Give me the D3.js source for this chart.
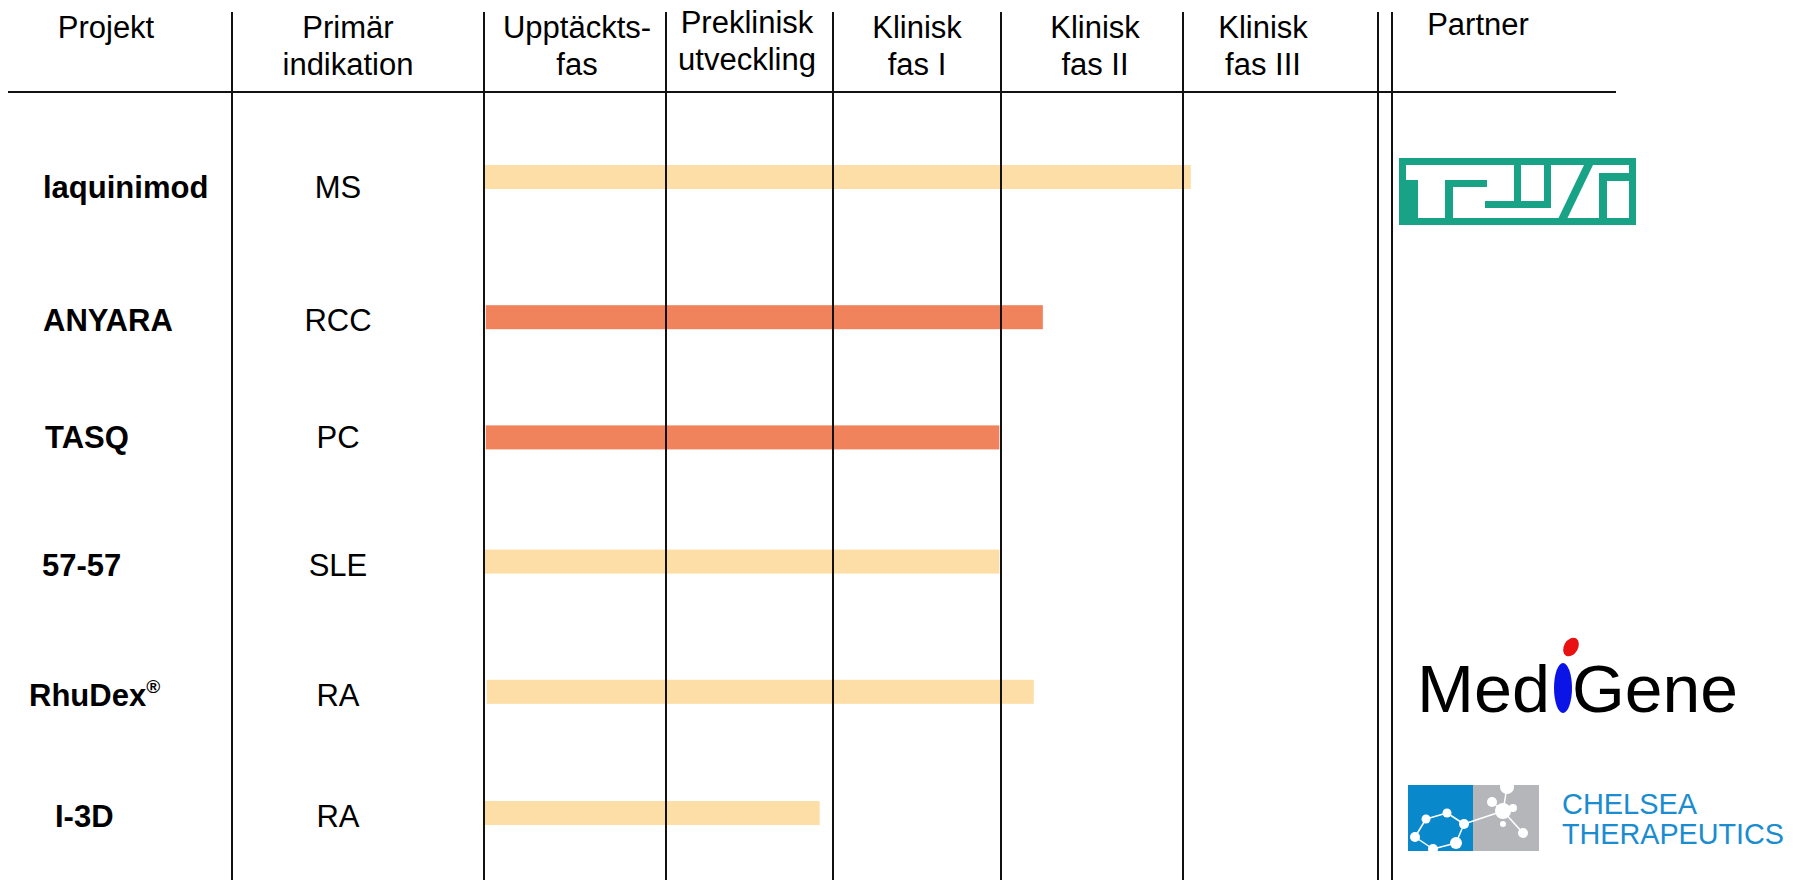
<!DOCTYPE html>
<html>
<head>
<meta charset="utf-8">
<script src="https://cdn.jsdelivr.net/npm/d3@7/dist/d3.min.js"></script>
<style>
  body { margin: 0; background: #fff; }
  text { font-family: "Liberation Sans", Arial, sans-serif; fill: #000; }
</style>
</head>
<body>
<div id="chart"></div>
<script>
// data
var projects = ["laquinimod", "ANYARA", "TASQ", "57-57", "RhuDex", "I-3D"];
var indications = ["MS", "RCC", "PC", "SLE", "RA", "RA"];
var barStart = [0.005, 0.01, 0.01, 0.005, 0.015, 0];   // in phases
var barEnd = [4.04, 3.23, 2.99, 2.99, 3.18, 1.92];
var barType = ["partner", "own", "own", "partner", "partner", "partner"];
var partners = ["teva", "", "", "", "medigene", "chelsea"];
var phases = [["Upptäckts-", "fas"], ["Preklinisk", "utveckling"], ["Klinisk", "fas I"],
              ["Klinisk", "fas II"], ["Klinisk", "fas III"]];
var headLeft = [["Projekt"], ["Primär", "indikation"]];

// layout
var width = 1795, height = 880;
var lineTop = 12, headLineY = 92;
var nameX = [43, 43, 45, 42, 29, 55];
var rowShift = [0, 13, 6, 3, 6, 0];
var textShift = [7, 0, -3, 0, 0, 0];
var phaseHeadX = [577, 747, 917, 1095, 1263];
var phaseHeadUp = [0, 5, 0, 0, 0];

var colorScale = d3.scaleOrdinal()
  .domain(["partner", "own"])
  .range(["#fcdea6", "#f0825c"]);

// phase boundaries are not evenly spaced in the picture
var xScale = d3.scaleLinear()
  .domain([0, 1, 2, 3, 4, 5])
  .range([484, 666, 833, 1001, 1183, 1378]);

var yScale = d3.scalePoint()
  .domain(projects)
  .range([177, 813]);

function rowY(d, i) { return yScale(d) + rowShift[i]; }
function textY(i) { return rowY(projects[i], i) + 14 + textShift[i]; }

var svg = d3.select("#chart")
  .append("svg")
  .attr("width", width)
  .attr("height", height);

// bars first, grid lines over them
svg.selectAll(".bar")
  .data(projects)
  .enter().append("rect")
  .attr("class", "bar")
  .attr("x", function(d, i) { return xScale(barStart[i]); })
  .attr("width", function(d, i) { return xScale(barEnd[i]) - xScale(barStart[i]); })
  .attr("y", function(d, i) { return rowY(d, i) - 12; })
  .attr("height", 24)
  .attr("fill", function(d, i) { return colorScale(barType[i]); });

var gridX = [232].concat(xScale.range()).concat([1392]);
svg.selectAll(".vline")
  .data(gridX)
  .enter().append("line")
  .attr("class", "vline")
  .attr("x1", function(d) { return d; })
  .attr("x2", function(d) { return d; })
  .attr("y1", lineTop)
  .attr("y2", height)
  .attr("stroke", "#111")
  .attr("stroke-width", 2);

svg.append("line")
  .attr("x1", 8).attr("x2", 1616)
  .attr("y1", headLineY).attr("y2", headLineY)
  .attr("stroke", "#111")
  .attr("stroke-width", 2);

// headers
function header(lines, x, up) {
  var t = svg.append("text")
    .attr("text-anchor", "middle")
    .attr("font-size", "31px");
  lines.forEach(function(s, k) {
    t.append("tspan").attr("x", x).attr("y", 38 - up + k * 37).text(s);
  });
}
header(headLeft[0], 106, 0);
header(headLeft[1], 348, 0);
phases.forEach(function(p, i) { header(p, phaseHeadX[i], phaseHeadUp[i]); });
header(["Partner"], 1478, 3);

// project names
var names = svg.selectAll(".name")
  .data(projects)
  .enter().append("text")
  .attr("class", "name")
  .attr("x", function(d, i) { return nameX[i]; })
  .attr("y", function(d, i) { return textY(i); })
  .attr("font-size", "31px")
  .attr("font-weight", "bold");
names.append("tspan").text(function(d) { return d; });
names.filter(function(d) { return d == "RhuDex"; })
  .append("tspan")
  .attr("font-size", "19px")
  .attr("dy", -13)
  .text("®");

svg.selectAll(".ind")
  .data(indications)
  .enter().append("text")
  .attr("class", "ind")
  .attr("x", 338)
  .attr("y", function(d, i) { return textY(i); })
  .attr("text-anchor", "middle")
  .attr("font-size", "31px")
  .text(function(d) { return d; });

// partner logos
function teva(g) {
  var green = "#19a386";
  g.append("rect").attr("width", 237).attr("height", 67).attr("fill", green);
  g.append("rect").attr("x", 7).attr("y", 7).attr("width", 223).attr("height", 53).attr("fill", "#fff");
  var strokes = [[0, 22, 19, 45], [46, 22, 8, 45], [46, 22, 42, 7], [86, 43, 36, 7],
                 [115, 7, 7, 43], [145, 7, 7, 43], [122, 43, 30, 7], [200, 15, 8, 52], [200, 15, 31, 8]];
  g.selectAll(".ts").data(strokes).enter().append("rect")
    .attr("x", function(d) { return d[0]; }).attr("y", function(d) { return d[1]; })
    .attr("width", function(d) { return d[2]; }).attr("height", function(d) { return d[3]; })
    .attr("fill", green);
  g.append("polygon").attr("points", "159,61 168,61 194,7 185,7").attr("fill", green);
}

function medigene(g) {
  g.append("text").attr("x", 1550).attr("y", 712).attr("text-anchor", "end")
    .attr("font-family", "Lato, sans-serif").attr("font-size", "66px").attr("font-weight", 300)
    .attr("textLength", 133).attr("lengthAdjust", "spacingAndGlyphs").text("Med");
  g.append("ellipse").attr("cx", 1563).attr("cy", 688).attr("rx", 9).attr("ry", 25).attr("fill", "#0a14e6");
  g.append("ellipse").attr("cx", 1571).attr("cy", 647).attr("rx", 7).attr("ry", 10)
    .attr("transform", "rotate(30,1571,647)").attr("fill", "#e81010");
  g.append("text").attr("x", 1572).attr("y", 712)
    .attr("font-family", "Lato, sans-serif").attr("font-size", "66px").attr("font-weight", 300)
    .attr("textLength", 166).attr("lengthAdjust", "spacingAndGlyphs").text("Gene");
}

function chelsea(g) {
  g.append("rect").attr("x", 1408).attr("y", 785).attr("width", 65).attr("height", 66).attr("fill", "#0a88cc");
  g.append("rect").attr("x", 1473).attr("y", 785).attr("width", 66).attr("height", 66).attr("fill", "#b4b6b9");
  var clip = g.append("clipPath").attr("id", "chclip");
  clip.append("rect").attr("x", 1408).attr("y", 785).attr("width", 131).attr("height", 66);
  var net = g.append("g").attr("clip-path", "url(#chclip)");
  var dots = [[1415, 837, 5], [1426, 819, 4.5], [1447, 813, 4.5], [1464, 824, 5], [1456, 843, 6],
              [1433, 849, 5], [1492, 802, 5], [1503, 811, 8], [1513, 808, 4], [1503, 824, 3],
              [1523, 833, 5], [1507, 787, 7]];
  var links = [[0, 1], [1, 2], [2, 3], [3, 4], [4, 5], [5, 0], [3, 7], [7, 11], [7, 10], [7, 6]];
  net.selectAll(".lk").data(links).enter().append("line")
    .attr("x1", function(d) { return dots[d[0]][0]; }).attr("y1", function(d) { return dots[d[0]][1]; })
    .attr("x2", function(d) { return dots[d[1]][0]; }).attr("y2", function(d) { return dots[d[1]][1]; })
    .attr("stroke", "#fff").attr("stroke-width", 1.5);
  net.selectAll(".dt").data(dots).enter().append("circle")
    .attr("cx", function(d) { return d[0]; }).attr("cy", function(d) { return d[1]; })
    .attr("r", function(d) { return d[2]; }).attr("fill", "#fff");
  g.append("text").attr("x", 1562).attr("y", 814)
    .attr("font-family", "Lato, sans-serif").attr("font-size", "29px").attr("font-weight", 400)
    .attr("textLength", 135).attr("lengthAdjust", "spacingAndGlyphs")
    .style("fill", "#1a8ccf").text("CHELSEA");
  g.append("text").attr("x", 1562).attr("y", 844)
    .attr("font-family", "Lato, sans-serif").attr("font-size", "29px").attr("font-weight", 300)
    .attr("textLength", 222).attr("lengthAdjust", "spacingAndGlyphs")
    .style("fill", "#1a8ccf").text("THERAPEUTICS");
}

partners.forEach(function(p) {
  if (p == "teva") teva(svg.append("g").attr("transform", "translate(1399,158)"));
  if (p == "medigene") medigene(svg.append("g"));
  if (p == "chelsea") chelsea(svg.append("g"));
});
</script>
</body>
</html>
